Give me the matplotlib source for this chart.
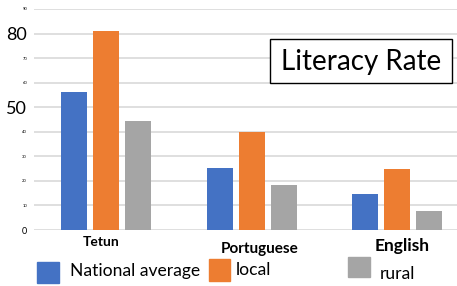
import matplotlib
matplotlib.use("Agg")
import matplotlib.pyplot as plt
from matplotlib.patches import Rectangle
import numpy as np

categories = ["Tetun", "Portuguese", "English"]
national_average = [56, 25.2, 14.6]
local = [80.9, 40.1, 24.8]
rural = [44.3, 18.3, 7.7]
series_names = ["National average", "local", "rural"]
colors = ["#4472C4", "#ED7D31", "#A5A5A5"]
y_ticks = [0, 10, 20, 30, 40, 50, 60, 70, 80, 90]
y_tick_sizes = [6.5, 3, 3, 3, 3, 13, 3, 3, 13, 3]

FONT = "Lato"
W, H = 457, 286

fig = plt.figure(figsize=(W / 100, H / 100), dpi=100)
ax = fig.add_axes([34 / W, 1 - 230 / H, (W - 34) / W, (230 - 9) / H])

x = np.arange(len(categories))
width = 0.179
step = 0.22
for i, vals in enumerate([national_average, local, rural]):
    ax.bar(x + (i - 1) * step, vals, width, color=colors[i], zorder=3)

ax.set_xlim(-0.495, 2.41)
ax.set_ylim(0, 90)
ax.set_yticks(y_ticks)
ax.set_yticklabels([str(t) for t in y_ticks])
for lab, s in zip(ax.get_yticklabels(), y_tick_sizes):
    lab.set_fontsize(s)
    lab.set_fontfamily(FONT)
ax.tick_params(axis="y", length=0, pad=5)
ax.set_xticks([])
ax.grid(axis="y", color="#D9D9D9", linewidth=1.2, zorder=0)
for sp in ax.spines.values():
    sp.set_visible(False)

# category labels, placed irregularly as in the original
cat_pos = [(101, 242, 10), (260, 249, 11), (402, 246, 12.5)]
for name, (px, py, fs) in zip(categories, cat_pos):
    fig.text(px / W, 1 - py / H, name, ha="center", va="center",
             fontsize=fs, fontweight="bold", family=FONT)

# hand-placed legend
leg = [(37, 262, 22, 21, 70, 271), (209, 259, 21, 22, 236, 270), (348, 257, 22, 20, 380, 274)]
for name, c, (rx, ry, rw, rh, tx, ty) in zip(series_names, colors, leg):
    fig.add_artist(Rectangle((rx / W, 1 - (ry + rh) / H), rw / W, rh / H,
                             transform=fig.transFigure, color=c))
    fig.text(tx / W, 1 - ty / H, name, ha="left", va="center", fontsize=12.6, family=FONT)

# title box
fig.add_artist(Rectangle((270 / W, 1 - 83 / H), 182 / W, 44 / H, transform=fig.transFigure,
                         facecolor="white", edgecolor="black", linewidth=1, zorder=5))
fig.text(361 / W, 1 - 62 / H, "Literacy Rate", ha="center", va="center",
         fontsize=20, family=FONT, zorder=6)

fig.savefig("out.png", dpi=100)
